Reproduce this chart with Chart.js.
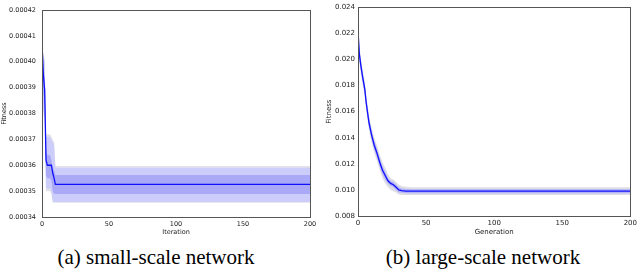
<!DOCTYPE html>
<html>
<head>
<meta charset="utf-8">
<script src="https://cdn.jsdelivr.net/npm/chart.js@4/dist/chart.umd.min.js"></script>
<style>
  body { margin: 0; background: #fff; width: 640px; height: 272px; position: relative; overflow: hidden; }
  .box { position: absolute; top: 0; width: 320px; height: 240px; }
  .cap {
    position: absolute; top: 247px;
    font-family: 'Liberation Serif', 'Times New Roman', 'DejaVu Serif', serif;
    font-size: 21px; line-height: 21px; color: #000;
    white-space: nowrap; transform: translateX(-50%);
  }
</style>
</head>
<body>
<div class="box" style="left:0"><canvas id="smallChart" width="320" height="240"></canvas></div>
<div class="box" style="left:320px"><canvas id="largeChart" width="320" height="240"></canvas></div>
<div class="cap" style="left:156px">(a) small-scale network</div>
<div class="cap" style="left:483px">(b) large-scale network</div>
<script>
// (a) small-scale network, fitness per iteration
const iterX      = [0, 1, 2, 3, 4, 5, 6, 7, 8, 9, 10, 200];
const iterMean   = [0.000407, 0.000395, 0.000389, 0.000362, 0.000360, 0.000360, 0.000360, 0.000360, 0.000357, 0.000355, 0.0003526, 0.0003526];
const iterInnerHi = [0.000404, 0.000398, 0.000394, 0.000366, 0.000364, 0.000364, 0.000364, 0.000362, 0.000359, 0.000358, 0.0003562, 0.0003562];
const iterInnerLo = [0.000398, 0.000388, 0.000384, 0.000356, 0.000355, 0.000355, 0.000355, 0.000354, 0.000350, 0.000349, 0.0003489, 0.0003489];
const iterMidHi  = [0.000406, 0.000402, 0.000400, 0.000371, 0.000371, 0.000371, 0.000371, 0.000370, 0.000369, 0.000368, 0.0003590, 0.0003590];
const iterMidLo  = [0.000392, 0.000382, 0.000378, 0.000351, 0.000351, 0.000351, 0.000351, 0.000350, 0.000346, 0.000346, 0.0003458, 0.0003458];
const iterOuterHi = [0.000408, 0.000403, 0.000401, 0.000372, 0.000372, 0.000372, 0.000372, 0.000371, 0.000370, 0.000369, 0.0003597, 0.0003597];
const iterOuterLo = [0.000390, 0.000380, 0.000376, 0.000350, 0.000350, 0.000350, 0.000350, 0.000349, 0.0003455, 0.0003455, 0.0003455, 0.0003455];

// (b) large-scale network, fitness per generation
const genX     = [0, 1, 2, 3, 4, 5, 6, 8, 10, 12, 14, 16, 18, 20, 22, 24, 26, 28, 30, 32, 35, 40, 50, 200];
const genMean  = [0.0222, 0.0204, 0.0196, 0.0189, 0.0183, 0.0177, 0.0167, 0.0152, 0.0142, 0.0134, 0.0128, 0.0121, 0.0115, 0.0111, 0.0107, 0.0105, 0.0104, 0.0102, 0.0100, 0.00995, 0.00991, 0.0099, 0.0099, 0.0099];
const genBlueHi = [0.0226, 0.0207, 0.0199, 0.0192, 0.0186, 0.0180, 0.0170, 0.0155, 0.0145, 0.0137, 0.0131, 0.0124, 0.0118, 0.0114, 0.0109, 0.0107, 0.0106, 0.0104, 0.0102, 0.0101, 0.01007, 0.01005, 0.01005, 0.01005];
const genBlueLo = [0.0218, 0.0201, 0.0193, 0.0186, 0.0180, 0.0174, 0.0164, 0.0149, 0.0139, 0.0131, 0.0125, 0.0118, 0.0112, 0.0108, 0.0105, 0.0103, 0.0102, 0.0100, 0.0098, 0.0098, 0.00975, 0.00975, 0.00975, 0.00975];
const genGrayHi = [0.0232, 0.0212, 0.0202, 0.0195, 0.0189, 0.0183, 0.0173, 0.0158, 0.0148, 0.0140, 0.0134, 0.0127, 0.0121, 0.0117, 0.0112, 0.0109, 0.0108, 0.0106, 0.0104, 0.0103, 0.01025, 0.0102, 0.0102, 0.0102];
const genGrayLo = [0.0212, 0.0198, 0.0190, 0.0183, 0.0177, 0.0171, 0.0161, 0.0146, 0.0136, 0.0128, 0.0122, 0.0115, 0.0109, 0.0105, 0.0102, 0.0100, 0.0099, 0.0098, 0.00965, 0.0096, 0.0096, 0.0096, 0.0096, 0.0096];

const TICK_FONT = 'DejaVu Sans';

function pts(xs, ys) {
    return xs.map((x, i) => ({ x: x, y: ys[i] }));
}

// plot frame like matplotlib
const framePlugin = {
    id: 'frame',
    afterDraw(chart) {
        const a = chart.chartArea;
        const ctx = chart.ctx;
        ctx.save();
        ctx.strokeStyle = '#555';
        ctx.lineWidth = 1;
        ctx.strokeRect(Math.round(a.left) + 0.5, Math.round(a.top) + 0.5, Math.round(a.right - a.left), Math.round(a.bottom - a.top));
        ctx.restore();
    }
};

function band(data, fillTo, color) {
    return {
        data: data,
        fill: fillTo === null ? false : fillTo,
        backgroundColor: color,
        borderWidth: 0,
        pointRadius: 0,
        tension: 0
    };
}

function makeChart(id, cfg) {
    const ctx = document.getElementById(id).getContext('2d');
    return new Chart(ctx, {
        type: 'line',
        data: {
            datasets: [
                { data: cfg.mean, borderColor: '#1010ff', borderWidth: 1.3, pointRadius: 0, fill: false, tension: 0 },
                band(cfg.innerHi, null, 'transparent'),
                band(cfg.innerLo, 1, cfg.innerColor),
                band(cfg.midHi, null, 'transparent'),
                band(cfg.midLo, 3, cfg.midColor),
                band(cfg.outerHi, null, 'transparent'),
                band(cfg.outerLo, 5, cfg.outerColor)
            ]
        },
        options: {
            responsive: false,
            animation: false,
            layout: { padding: cfg.padding },
            plugins: { legend: { display: false }, tooltip: { enabled: false } },
            scales: {
                x: {
                    type: 'linear',
                    min: 0, max: 200,
                    afterFit: s => { s.height = cfg.xHeight; },
                    grid: { display: false, drawTicks: false },
                    border: { display: false },
                    ticks: { stepSize: 50, padding: 3, color: '#222', maxRotation: 0, font: { family: TICK_FONT, size: cfg.fontSize } },
                    title: { display: true, text: cfg.xTitle, color: '#222', padding: 0, font: { family: TICK_FONT, size: cfg.fontSize } }
                },
                y: {
                    min: cfg.yMin, max: cfg.yMax,
                    afterFit: s => { s.width = cfg.yWidth; },
                    grid: { display: false, drawTicks: false },
                    border: { display: false },
                    ticks: {
                        stepSize: cfg.yStep,
                        autoSkip: false,
                        padding: cfg.yPad,
                        color: '#222',
                        font: { family: TICK_FONT, size: cfg.fontSize },
                        callback: v => Number(v).toFixed(cfg.digits)
                    },
                    title: { display: true, text: 'Fitness', color: '#222', padding: 0, font: { family: TICK_FONT, size: cfg.fontSize } }
                }
            }
        },
        plugins: [framePlugin]
    });
}

makeChart('smallChart', {
    mean: pts(iterX, iterMean),
    innerHi: pts(iterX, iterInnerHi), innerLo: pts(iterX, iterInnerLo),
    midHi: pts(iterX, iterMidHi), midLo: pts(iterX, iterMidLo),
    outerHi: pts(iterX, iterOuterHi), outerLo: pts(iterX, iterOuterLo),
    innerColor: '#a9a9f7', midColor: '#cdcdfb', outerColor: '#e2e2ea',
    padding: { left: 0, right: 10, top: 10, bottom: 4 },
    xHeight: 19, yWidth: 42, yPad: 6,
    yMin: 0.00034, yMax: 0.00042, yStep: 0.00001, digits: 5,
    fontSize: 6.5, xTitle: 'Iteration'
});

makeChart('largeChart', {
    mean: pts(genX, genMean),
    innerHi: pts(genX, genBlueHi), innerLo: pts(genX, genBlueLo),
    midHi: pts(genX, genBlueHi), midLo: pts(genX, genBlueLo),
    outerHi: pts(genX, genGrayHi), outerLo: pts(genX, genGrayLo),
    innerColor: '#b4b4f6', midColor: '#c8c8f6', outerColor: '#dedee6',
    padding: { left: 5, right: 7, top: 4, bottom: 4 },
    xHeight: 20, yWidth: 33, yPad: 3,
    yMin: 0.008, yMax: 0.024, yStep: 0.002, digits: 3,
    fontSize: 7, xTitle: 'Generation'
});
</script>
</body>
</html>
